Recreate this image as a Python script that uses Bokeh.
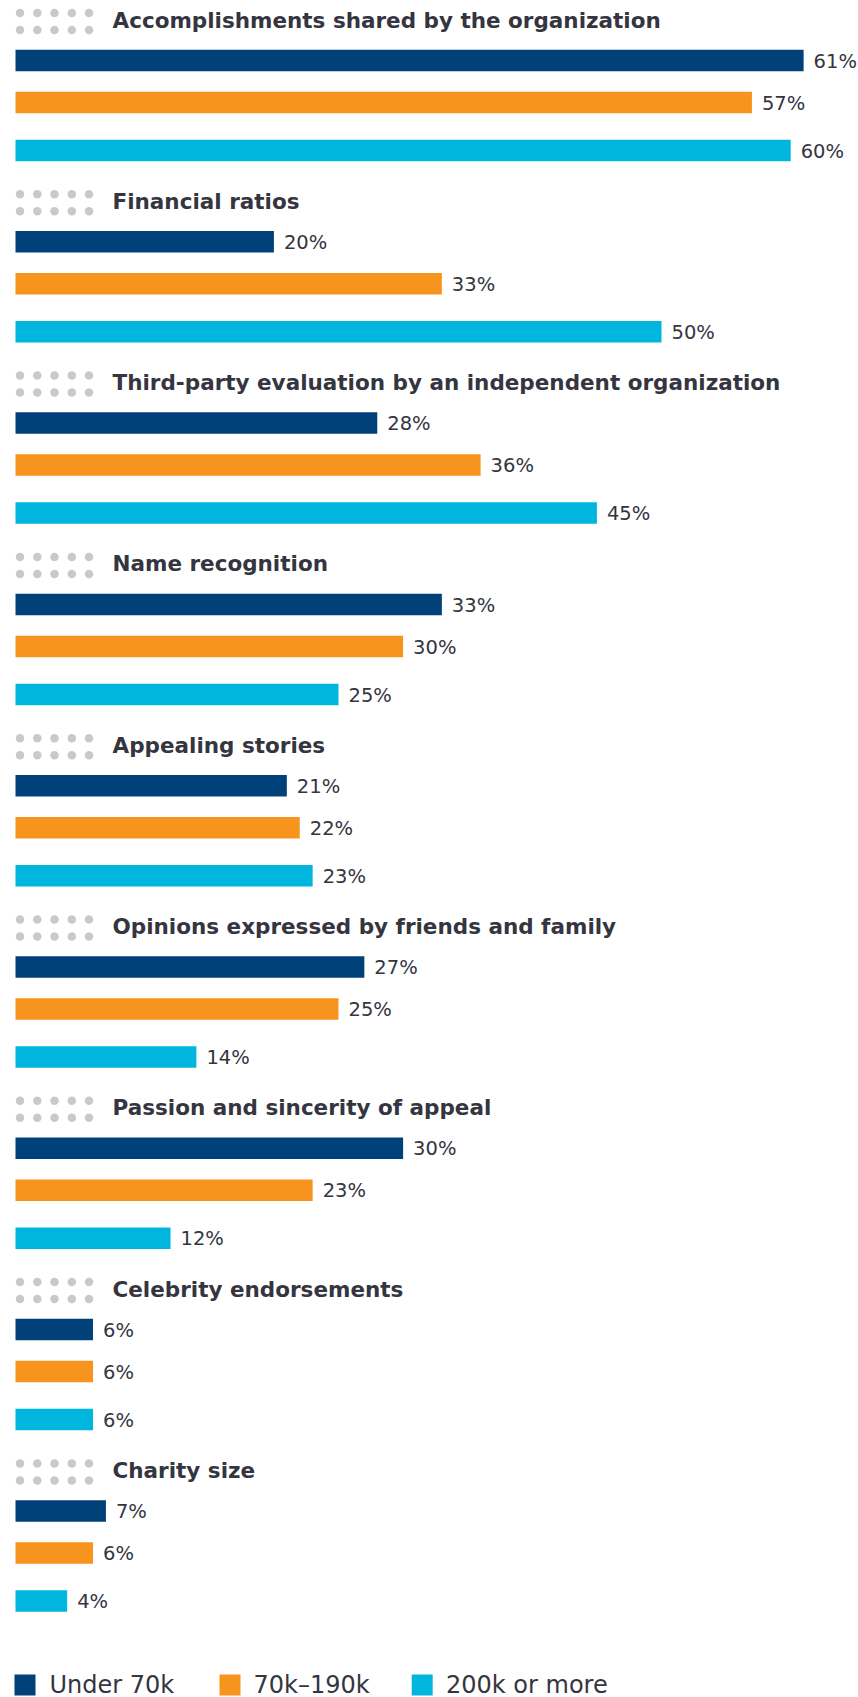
from bokeh.plotting import figure
from bokeh.models import Range1d, ColumnDataSource
from bokeh.core.properties import value
from bokeh.embed import file_html
from bokeh.resources import INLINE

# ---------------- data ----------------
categories = [
    "Accomplishments shared by the organization",
    "Financial ratios",
    "Third-party evaluation by an independent organization",
    "Name recognition",
    "Appealing stories",
    "Opinions expressed by friends and family",
    "Passion and sincerity of appeal",
    "Celebrity endorsements",
    "Charity size",
]
under_70k = [61, 20, 28, 33, 21, 27, 30, 6, 7]
from_70k_to_190k = [57, 33, 36, 30, 22, 25, 23, 6, 6]
over_200k = [60, 50, 45, 25, 23, 14, 12, 6, 4]
series_names = ["Under 70k", "70k\u2013190k", "200k or more"]
series_values = [under_70k, from_70k_to_190k, over_200k]

# ---------------- style / layout ----------------
colors = ["#004179", "#f7941e", "#00b6df"]
text_color = "#34353f"
dot_color = "#c9c9c9"
FONT = "DejaVu Sans"

W, H = 858, 1697
PX_PER_PCT = 12.92
X0 = 15  # page x of 0%


def px2x(px):
    return (px - X0) / PX_PER_PCT


GROUP_TOP = 60.0
GROUP_STEP = 181.3
BAR_OFFSETS = [0, 42, 90]
BAR_H = 21.5

p = figure(width=W, height=H, output_backend="svg", toolbar_location=None,
           x_range=Range1d(px2x(0), px2x(W)),
           y_range=Range1d(H, 0),
           min_border=0, outline_line_color=None)
p.axis.visible = False
p.grid.visible = False
p.background_fill_color = "white"
p.border_fill_color = "white"

# bars & value labels
for s, vals in enumerate(series_values):
    ys = [GROUP_TOP + g * GROUP_STEP + BAR_OFFSETS[s] for g in range(len(categories))]
    src = ColumnDataSource(dict(
        y=ys, right=vals, left=[0] * len(vals),
        lx=[v + px2x(X0 + 10) for v in vals],
        ly=[y + 0.6 for y in ys],
        lab=[f"{v}%" for v in vals]))
    p.hbar(y="y", left="left", right="right", height=BAR_H, source=src,
           fill_color=colors[s], line_color=None)
    p.text(x="lx", y="ly", text="lab", source=src, text_font=value(FONT),
           text_font_size="19.5px", text_color=text_color,
           text_baseline="alphabetic", text_align="left")

# dot decorations beside each group title
dot_x, dot_y = [], []
dot_cols = [19.5, 36.8, 54, 71.3, 88.5]
for g in range(len(categories)):
    base = GROUP_TOP + g * GROUP_STEP
    for r in (-47.5, -30.5):
        for cx in dot_cols:
            dot_x.append(px2x(cx))
            dot_y.append(base + r)
p.scatter(dot_x, dot_y, size=8.5, marker="circle", fill_color=dot_color, line_color=None)

# group titles
tsrc = ColumnDataSource(dict(
    x=[px2x(112)] * len(categories),
    y=[GROUP_TOP + g * GROUP_STEP - 40.5 for g in range(len(categories))],
    t=categories))
p.text(x="x", y="y", text="t", source=tsrc, text_font=value(FONT),
       text_font_size="21.5px", text_font_style="bold", text_color=text_color,
       text_baseline="alphabetic", text_align="left")

# legend
LEG_Y = 1684.5
leg_sq_px = [24.5, 229.5, 421.7]
leg_txt_px = [49, 253, 445.5]
p.rect(x=[px2x(v) for v in leg_sq_px], y=[LEG_Y] * 3, width=21 / PX_PER_PCT,
       height=21, fill_color=colors, line_color=None)
p.text(x=[px2x(v) for v in leg_txt_px], y=[1684] * 3, text=series_names,
       text_font=value(FONT), text_font_size="24px", text_color=text_color,
       text_baseline="alphabetic", text_align="left")

open("out.html", "w").write(file_html(p, INLINE))
